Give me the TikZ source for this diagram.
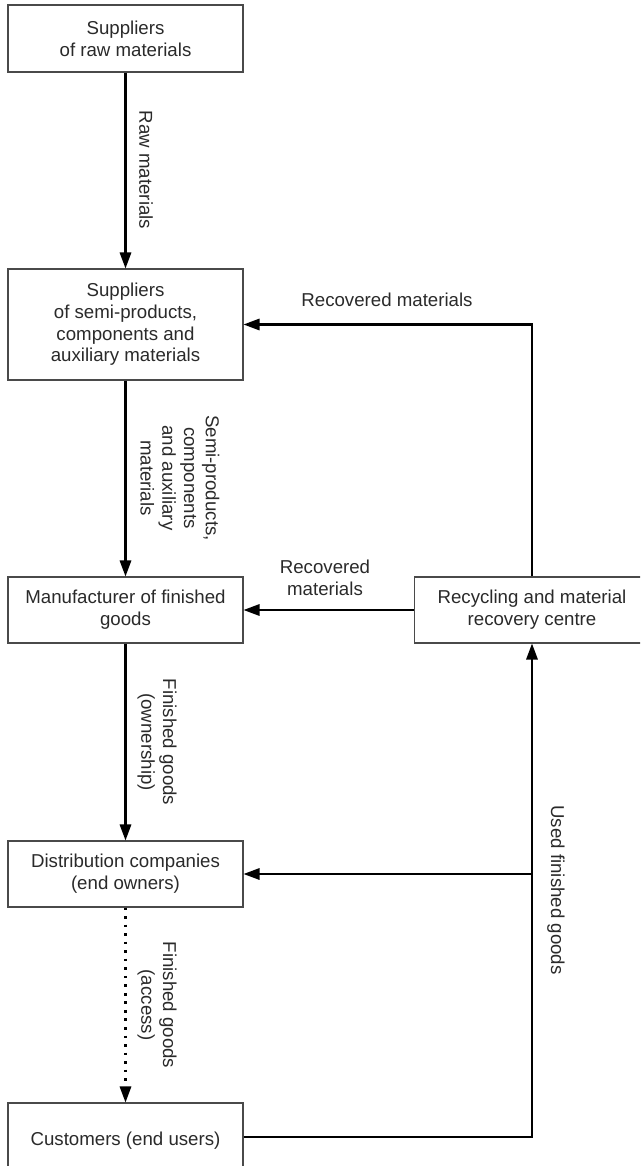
\documentclass[tikz,border=0pt]{standalone}
\usepackage{fontspec}
\setmainfont{Liberation Sans}
\usetikzlibrary{arrows.meta}
\definecolor{ink}{HTML}{2A2A2A}
\begin{document}
\begin{tikzpicture}[x=0.75pt,y=-0.75pt,
  box/.style={draw=ink!85, line width=0.8pt, fill=white, text=ink,
    minimum width=235*0.75pt, align=center, inner sep=2pt,
    font=\fontsize{14}{16.3}\selectfont},
  flow/.style={line width=1.6pt, -{Triangle[length=12pt,width=8.5pt]}},
  lbl/.style={text=ink, align=center, inner sep=0pt,
    font=\fontsize{14}{16.3}\selectfont},
  vlbl/.style={lbl, rotate=-90}]
\useasboundingbox (0,0) rectangle (640,1166);
\clip (0,0) rectangle (640,1166);

% boxes
\node[box, minimum height=67*0.75pt] (s1) at (125.5,38.5) {Suppliers\\of raw materials};
\node[box, minimum height=111*0.75pt] (s2) at (125.5,324.5) {Suppliers\\of semi-products,\\components and\\auxiliary materials};
\node[box, minimum height=66*0.75pt] (man) at (125.5,610) {Manufacturer of finished\\goods};
\node[box, minimum height=66*0.75pt] (dist) at (125.5,874) {Distribution companies\\(end owners)};
\node[box, minimum height=76*0.75pt] (cust) at (125.5,1141) {Customers (end users)};
\node[box, minimum height=66*0.75pt] (rec) at (532,610) {Recycling and material\\recovery centre};

% main chain
\draw[flow] (s1) -- (s2);
\draw[flow] (s2) -- (man);
\draw[flow] (man) -- (dist);
\draw[flow, dash pattern=on 2pt off 4.4pt] (dist) -- (cust);

% recovery loops
\draw[flow] (rec.north) |- (s2.east);
\draw[flow] (rec.west) -- (man.east);
\coordinate (c) at ([yshift=3pt]cust.east);
\coordinate (j) at (rec.south |- dist.east);
\draw[flow] (c) -| (rec.south);
\draw[flow] (j) -- (dist.east);

% labels
\node[vlbl] (l1) at (146,170) {Raw materials};
\node[vlbl] (l2) at (180,478) {Semi-products,\\components\\and auxiliary\\materials};
\node[vlbl] (l3) at (157,742) {Finished goods\\(ownership)};
\node[vlbl] (l4) at (157,1005) {Finished goods\\(access)};
\node[vlbl] (l5) at (556,890) {Used finished goods};
\node[lbl] (l6) at (387,300) {Recovered materials};
\node[lbl] (l7) at (325,577.5) {Recovered\\materials};
\end{tikzpicture}
\end{document}
